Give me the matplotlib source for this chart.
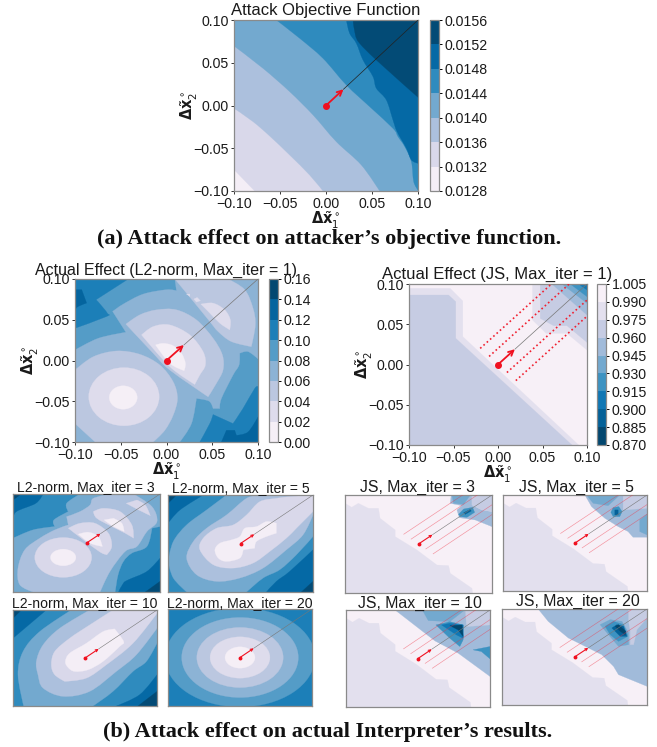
import matplotlib
matplotlib.use('Agg')
import matplotlib.pyplot as plt
from matplotlib.patches import Ellipse, PathPatch
from matplotlib.path import Path
from matplotlib.colors import ListedColormap, BoundaryNorm
from matplotlib.cm import ScalarMappable
import numpy as np

plt.rcParams['font.family'] = ['Liberation Sans', 'DejaVu Sans']
plt.rcParams['mathtext.fontset'] = 'dejavusans'

W, H = 657, 747
TEXT = '#1a1a1a'
FRAME = '#8a8a8a'

# colorbar levels
obj_levels = [0.0128, 0.0132, 0.0136, 0.0140, 0.0144, 0.0148, 0.0152, 0.0156]
l2_levels = [0.00, 0.02, 0.04, 0.06, 0.08, 0.10, 0.12, 0.14, 0.16]
js_levels = [0.870, 0.885, 0.900, 0.915, 0.930, 0.945, 0.960, 0.975, 0.990, 1.005]
ticks = [-0.10, -0.05, 0.00, 0.05, 0.10]

# contour regions: (level, outline), in units of 0.01, painted in order
FULL = [(-10, -10), (10, -10), (10, 10), (-10, 10)]

obj_regions = [
    (0, FULL),
    (1, [(-10, -7.5), (-7.75, -10), (10, -10), (10, 10), (-10, 10)]),
    (2, [(-10, -0.33), (-7.93, -1.89), (-6.12, -3.57), (-3.95, -5.79), (-1.78, -8.13), (-0.33, -10),
         (10, -10), (10, 10), (-10, 10)]),
    (3, [(-10, 6.96), (-6.85, 4.35), (-3.95, 1.62), (-1.41, -1.11), (1.12, -4.23), (3.84, -6.96), (5.83, -10),
         (10, -10), (10, 10), (-10, 10)]),
    (4, [(-5.4, 10), (-2.86, 7.86), (-0.33, 5.52), (2.21, 2.4), (4.75, -0.14), (7.28, -2.67), (7.83, -3.65),
         (8.55, -4.8), (9.28, -6.57), (9.53, -8.9), (10, -9.9), (10, 10)]),
    (5, [(2.21, 10), (2.57, 8.44), (3.3, 7.27), (4.02, 5.32), (5.11, 3.37), (5.47, 2.01), (6.56, 0.64),
         (7.28, -1.7), (7.72, -3.06), (8.73, -5), (9.28, -6.37), (10, -6.76), (10, 10)]),
    (6, [(2.93, 10), (3.19, 8.25), (3.66, 7.27), (5.47, 5.32), (10, 0.96), (10, 10)]),
]

l2_iter1_regions = [
    (4, FULL),
    (5, [(-10, 10), (-4.18, 10), (-7.71, 7.45), (-7.45, 7.17), (-6.47, 5.81), (-6.55, 5.4), (-10, 3.96)]),
    (6, [(-10, 8.69), (-9.27, 8.69), (-8.73, 7.05), (-9.64, 6.64), (-10, 6.25)]),
    (3, [(-10, 1.29), (-7.45, 2.73), (-4.44, 3.47), (-5.89, 6.02), (-4.73, 6.92), (-2.55, 8.15), (0, 8.69),
         (1.09, 8.56), (0.91, 10), (10, 10), (10, 0.2), (8.91, 1.09), (8, 0.88), (7.93, -0.55), (7.27, -1.79),
         (6, -4.66), (5.82, -5.89), (5.09, -5.89), (4.65, -4.99), (3.27, -4.66), (2.73, -7.74), (1.45, -10),
         (-10, -10)]),
    (5, [(3.64, -10), (4.73, -7.74), (5.09, -6.63), (7.27, -7.74), (8.36, -5.89), (9.64, -3.43), (10, -3.22),
         (10, -10)]),
    (6, [(6, -10), (6.55, -8.56), (7.45, -8.56), (7.64, -9.18), (8.91, -8.77), (10, -6.92), (10, -10)]),
    (2, [(0.91, 10), (6.73, 10), (8.55, 8.69), (9.45, 6.43), (9.71, 4.37), (9.27, 1.7), (7.09, 2.32), (5.64, 3.55),
         (4.73, 4.78), (3.09, 7.04)]),
    (1, [(3.75, 6.92), (5.09, 7.04), (6.36, 6.22), (6.98, 4.99), (6.91, 3.76), (5.82, 4.58), (4.55, 6.02)]),
    (1, [(2.18, 8.15), (2.55, 8.15), (2.55, 7.86)]),
    (1, [(2.98, 7.54), (3.35, 7.74), (3.71, 7.33), (3.27, 7.17)]),
    (2, [(-4.44, 4.46), (-2.91, 5.61), (-1.09, 6.22), (1.09, 6.22), (3.27, 4.99), (5.09, 2.73), (6.11, 0.68),
         (6.18, -1.17), (5.45, -2.81), (4.55, -4.46), (0.36, -1.17), (-1.45, 0.88)]),
    (1, [(-2.73, 3.14), (-1.45, 4.17), (0.36, 4.37), (2.55, 3.14), (4, 1.09), (4.25, -0.55), (3.64, -1.78),
         (3.09, -2.94), (0.36, -0.76)]),
    (0, [(-1.2, 1.91), (-0.36, 2.11), (0.73, 1.82), (1.64, 0.88), (2.07, -0.35), (1.93, -1.25), (0.36, -0.35)]),
    (2, [(-10, -1.17), (-8, 0.47), (-5.45, 1.17), (-2.91, 0.76), (-0.73, -0.55), (0.73, -2.61), (1.2, -4.66),
         (0.73, -6.71), (-0.18, -8.56), (-1.45, -10), (-7.8, -10), (-10, -7.74)]),
]
# rings: (level, centre x, centre y, half width, half height)
l2_iter1_rings = [(1, -4.65, -4.44, 3.85, 3.57), (0, -4.73, -4.54, 1.53, 1.44)]

js_iter1_regions = [
    (0, FULL),
    (1, [(-10, 9.46), (-5.38, 9.46), (-3.96, 7.89), (-3.96, 3.46), (9.06, -10), (-10, -10)]),
    (2, [(-10, 8.63), (-5.56, 8.63), (-4.75, 7.8), (-4.75, 3.25), (8.31, -10), (-10, -10)]),
    (1, [(3.88, 10), (3.88, 5.53), (5.42, 3.87), (7.75, 3.87), (10, 1.8), (10, 10)]),
    (2, [(4.75, 10), (4.75, 5.73), (6.25, 4.82), (7.75, 4.82), (10, 2.75), (10, 10)]),
    (3, [(6.06, 10), (10, 6.15), (10, 10)]),
    (4, [(7.19, 10), (10, 7.6), (10, 10)]),
    (5, [(8.12, 10), (10, 8.43), (10, 10)]),
    (6, [(9.06, 10), (10, 9.25), (10, 10)]),
]

l2_iter3_regions = [
    (4, FULL),
    (5, [(-10, 10), (-5.9, 10), (-6.9, 8.1), (-9.55, 6.4), (-10, 4.7)]),
    (6, [(-10, 10), (-8.86, 10), (-10, 8.78)]),
    (5, [(4.35, -10), (5.03, -8.17), (5.72, -7.49), (8.22, -5.8), (10, -3.1), (10, -10)]),
    (6, [(8, -10), (10, -7.83), (10, -10)]),
    (3, [(-10, 0.98), (-7.27, 2.68), (-4.31, 3.36), (-4.44, 4.71), (-2.48, 6.41), (-2.71, 8.1), (-0.89, 10), (10, 10),
         (10, 3.36), (8.91, 3.02), (8.22, -0.71), (6.17, -2.07), (5.03, -3.76), (4.3, -6.47), (3.9, -10), (-10, -10)]),
    (2, [(-9.09, -8.5), (-9.32, -5.12), (-8.4, -1.39), (-6.36, 0.98), (-4.31, 2.68), (-2.48, 3.69), (-2.71, 5.39),
         (-0.89, 6.41), (0.48, 7.76), (0.93, 9.12), (3.21, 10), (6.4, 10), (8.91, 7.42), (9.59, 4.37), (8.22, 2.34),
         (6.86, -0.71), (5.26, -1.73), (3.2, -5.8), (1.85, -10), (-7.27, -10)]),
    (1, [(-2.48, 3.02), (-0.89, 4.03), (1.16, 4.03), (2.98, 2), (3.44, -0.71), (2.76, -2.41), (1.85, -1.86),
         (-0.43, 0.64)]),
    (0, [(-1.12, 1.8), (0.25, 2.2), (1.62, 1.32), (2.16, -0.71), (0.48, -0.03)]),
    (1, [(0.93, 6.41), (2.28, 7.08), (4.58, 6.41), (6.17, 3.69), (6.4, 0.98), (5.26, 2), (3.44, 3.36), (1.39, 5.05)]),
    (0, [(2.39, 4.71), (3.67, 5.05), (4.81, 4.03), (5.13, 2.34), (3.67, 3.36)]),
    (1, [(5.4, 8.1), (6.86, 8.78), (8, 7.76), (8.68, 5.59), (7.08, 6.75)]),
]
l2_iter3_rings = [(1, -3.17, -2.95, 3.87, 4.07), (0, -3.17, -2.95, 1.73, 1.7)]

l2_iter5_regions = [
    (4, FULL),
    (5, [(-10, 10), (-5.14, 10), (-8.35, 6.92), (-10, 4.18)]),
    (6, [(-10, 10), (-8.81, 10), (-10, 8.29)]),
    (5, [(3.58, -10), (4.95, -7.81), (6.79, -5.75), (10, -1.3), (10, -10)]),
    (6, [(8.39, -10), (10, -7.81), (10, -10)]),
    (3, [(-10, -3.7), (-9.27, 0.41), (-7.43, 3.84), (-4.68, 6.92), (-1.93, 10), (10, 10), (10, 1.44), (7.71, -2.33),
         (5.41, -5.41), (3.12, -7.12), (0.83, -10), (-7.43, -10), (-9.27, -7.12)]),
    (2, [(-7.43, -3.01), (-6.51, 0.41), (-4.68, 3.15), (-1.93, 5.89), (0.83, 9.32), (2.66, 10), (10, 10), (10, 5.89),
         (8.62, 1.78), (6.33, -1.3), (3.12, -5.07), (-0.09, -7.12), (-3.3, -7.81), (-6.06, -6.44)]),
    (1, [(-5.6, -1.3), (-5.14, 1.1), (-3.3, 3.15), (-1.01, 3.84), (0.83, 5.89), (2.66, 8.63), (4.95, 9.32), (6.79, 9.66),
         (10, 10), (10, 6.58), (7.71, 3.15), (6.33, 1.1), (4.04, -1.64), (1.74, -4.04), (-1.01, -5.07), (-3.76, -4.38)]),
    (0, [(-3.53, -1.3), (-2.84, 0.07), (-1.24, 0.75), (-0.09, 1.44), (0.6, 3.15), (2.2, 3.49), (3.58, 4.52), (4.95, 4.18),
         (4.95, 2.12), (3.58, 1.44), (2.2, 0.41), (1.97, -0.96), (0.37, -1.3), (-0.09, -3.01), (-1.93, -3.7),
         (-3.07, -3.01)]),
]

l2_iter10_regions = [
    (4, FULL),
    (5, [(-10, 10), (-5.37, 10), (-10, 4.12)]),
    (6, [(-10, 10), (-8.84, 10), (-10, 8.27)]),
    (5, [(4.35, -10), (7.59, -7.65), (10, -3.49), (10, -10)]),
    (6, [(7.36, -10), (10, -6.96), (10, -10)]),
    (3, [(-8.52, -10), (-9.31, -3.49), (-8.61, 1.35), (-6.3, 5.5), (-1.9, 10), (10, 10), (10, 3.08), (8.52, -0.73),
         (6.67, -2.8), (3.89, -6.96), (1.11, -10)]),
    (2, [(-6.53, -3.49), (-6.76, -0.73), (-5.83, 2.73), (-3.52, 6.19), (0.65, 10), (10, 10), (10, 6.19), (7.13, 0.66),
         (4.35, -2.8), (0.65, -6.96), (-3.06, -7.99), (-5.83, -6.26)]),
    (1, [(-4.68, -1.42), (-4.21, 1.35), (-2.13, 4.12), (0.65, 6.89), (3.89, 10), (10, 10), (10, 9.31), (6.67, 3.08),
         (2.96, -1.42), (0.19, -4.19), (-2.82, -4.88), (-4.21, -3.49)]),
    (0, [(-2.73, -0.73), (-2.13, 1), (0.19, 3.08), (2.5, 5.5), (4.12, 6.06), (5.37, 3.43), (4.81, 2.39), (2.5, -0.73),
         (0.42, -2.46), (-1.44, -2.8), (-2.36, -1.97)]),
]

l2_iter20_regions = [(5, FULL)]
l2_iter20_rings = [(4, 0, 0, 10.4, 10.2), (3, 0, 0, 8.1, 8.25), (2, 0, 0, 6.0, 6.2), (1, 0, 0, 4.16, 4.26),
                   (0, 0, 0, 2.08, 2.2)]

# the lower left staircase is the same in all small JS panels
js_stair = [(-10, 8.3), (-9.09, 7.48), (-8.18, 8.3), (-6.82, 7.28), (-5.45, 7.28), (-5.23, 5.24), (-3.18, 2.86),
            (-3.18, 1.5), (-0.23, -1.22), (2.5, -4.29), (4.09, -4.42), (4.32, -5.99), (7.27, -9.05), (7.36, -10),
            (-10, -10)]

js_iter3_regions = [
    (0, FULL), (1, js_stair),
    (3, [(4.45, 10), (4.32, 8.3), (5.91, 7.82), (5.23, 6.94), (5.55, 5.37), (7.73, 4.9), (10, 3.54), (10, 6.6),
         (8.64, 6.94), (7.27, 7.96), (7.27, 10)]),
    (2, [(7.27, 10), (10, 10), (10, 6.6), (8.64, 6.94), (7.27, 7.96)]),
    (4, [(4.55, 10), (4.77, 8.3), (6.14, 8.1), (7.05, 10)]),
    (5, [(5.45, 6.05), (6.14, 7.14), (7.36, 7.48), (7.64, 6.46), (6.59, 5.44), (5.68, 5.58)]),
    (7, [(6.14, 6.39), (7.05, 7.07), (7.18, 6.73), (6.36, 6.05)]),
]
js_iter5_regions = [
    (0, FULL), (1, js_stair),
    (3, [(1.38, 10), (2.3, 7.58), (4.15, 5.16), (5.99, 3.43), (7.37, 2.39), (8.06, 1.21), (10, 1.21), (10, 10)]),
    (2, [(6.68, 10), (10, 10), (10, 7.23), (6.68, 6.89)]),
    (4, [(1.61, 10), (2.53, 8.27), (4.61, 7.79), (6.22, 10)]),
    (5, [(4.98, 6.4), (5.3, 7.37), (6.08, 7.58), (6.54, 6.54), (6.22, 5.5), (5.3, 5.5)]),
    (7, [(5.53, 6.89), (5.99, 6.89), (5.99, 5.85), (5.53, 5.85)]),
    (4, [(8.99, 4.81), (10, 5.99), (10, 1.7), (8.99, 2.39)]),
]
js_iter10_regions = [
    (0, FULL), (1, js_stair),
    (3, [(-3.18, 10), (2.35, 3.63), (5.58, 1.1), (10, -3.7), (10, 10)]),
    (2, [(6.59, 10), (10, 10), (10, 6.92), (6.73, 6.58)]),
    (4, [(0.6, 10), (1.43, 7.81), (4.42, 7.6), (6.5, 10)]),
    (5, [(2.49, 6.92), (4.42, 7.6), (6.27, 6.92), (6.27, 3.84), (5.81, 2.47), (4.42, 4.18)]),
    (6, [(3.27, 6.92), (4.42, 7.26), (6.27, 6.92), (6.27, 4.18), (5.35, 4.86)]),
    (8, [(4.42, 6.78), (6.13, 6.92), (6.27, 4.52), (5.58, 5.89)]),
    (5, [(7.65, 1.78), (10, 2.47), (10, -0.07), (8.8, 1.44)]),
]
js_iter20_regions = [
    (0, FULL), (1, js_stair),
    (3, [(-5.01, 10), (-3.63, 7.43), (-0.85, 3.96), (1.92, 1.88), (3.76, 0.49), (5.38, -1.94), (6.07, -3.68),
         (10, -6.11), (10, 10)]),
    (2, [(7.46, 10), (10, 10), (10, 8.13), (8.61, 5.69), (8.15, 2.57), (7.69, 2.57), (7.69, 5.35), (7.46, 7.43)]),
    (4, [(3.53, 6.74), (4.92, 7.78), (6.54, 7.43), (7.46, 5), (7.46, 2.57), (6.07, 2.22), (4.69, 4.65)]),
    (5, [(4.23, 6.39), (5.38, 7.43), (6.77, 6.74), (7.37, 4.31), (6.07, 3.26), (4.92, 4.65)]),
    (7, [(5.15, 6.04), (5.84, 6.74), (6.77, 6.39), (7.23, 4.31), (6.3, 4.31)]),
    (8, [(5.61, 6.39), (6.07, 6.74), (7.09, 5.35), (7, 4.65), (6.3, 5.35)]),
]

# attack path and the parallel JS lines
arrow_tip = 1.9
path_end = 10
js_line_starts = [(-2, 2), (-1, 1), (1, -1), (2, -2)]
js_line_ends = [(6, 10), (8, 10), (10, 8), (10, 6)]


def level_colors(n):
    return [plt.cm.PuBu((i + 0.5) / n) for i in range(n)]


def make_axes(x0, x1, y0, y1):
    # pixel box of the reference -> figure fractions
    return fig.add_axes([x0 / W, 1 - y1 / H, (x1 - x0) / W, (y1 - y0) / H])


def outline_path(pts, smooth):
    # cubic curve through every outline point, sharp corners and border points stay corners
    a = np.array(pts, dtype=float)
    n = len(a)
    tangents = []
    for i in range(n):
        prev, cur, nxt = a[i - 1], a[i], a[(i + 1) % n]
        u, v = cur - prev, nxt - cur
        cosang = np.dot(u, v) / (np.linalg.norm(u) * np.linalg.norm(v))
        if not smooth or cosang < 0.55 or max(abs(cur)) >= 10:
            tangents.append(np.zeros(2))
        else:
            tangents.append((nxt - prev) / 6)
    verts, codes = [a[0]], [Path.MOVETO]
    for i in range(n):
        j = (i + 1) % n
        verts += [a[i] + tangents[i], a[j] - tangents[j], a[j]]
        codes += [Path.CURVE4, Path.CURVE4, Path.CURVE4]
    verts.append(a[0])
    codes.append(Path.CLOSEPOLY)
    return Path(np.array(verts) * 0.01, codes)


def paint(ax, regions, rings, colors, smooth=True):
    for level, outline in regions:
        ax.add_patch(PathPatch(outline_path(outline, smooth), fc=colors[level], ec=colors[level], lw=0.2))
    for level, cx, cy, rx, ry in rings:
        ax.add_patch(Ellipse((cx * 0.01, cy * 0.01), 2 * rx * 0.01, 2 * ry * 0.01, fc=colors[level], ec=colors[level], lw=0.2))
    ax.set_xlim(-0.1, 0.1)
    ax.set_ylim(-0.1, 0.1)
    for s in ax.spines.values():
        s.set_color(FRAME)
        s.set_linewidth(0.9)


def attack_path(ax, line_color, small=False):
    tip = arrow_tip * 0.01
    end = path_end * 0.01
    ax.plot([tip, end], [tip, end], color=line_color, lw=0.4 if small else 0.5, zorder=5)
    ax.annotate('', xy=(tip, tip), xytext=(0, 0), zorder=6,
                arrowprops=dict(arrowstyle='->', color='#f01020', lw=0.8 if small else 1.3,
                                mutation_scale=4 if small else 9, shrinkA=0, shrinkB=0))
    ax.plot([0], [0], 'o', color='#f01020', ms=1.8 if small else 4, zorder=7)


def big_panel(box, regions, rings, colors, title, title_xy, title_size, line_color, smooth=True):
    ax = make_axes(*box)
    paint(ax, regions, rings, colors, smooth)
    attack_path(ax, line_color)
    ax.set_xticks(ticks)
    ax.set_yticks(ticks)
    ax.set_xticklabels(['\u22120.10', '\u22120.05', '0.00', '0.05', '0.10'], fontsize=10.2, color=TEXT)
    ax.set_yticklabels(['\u22120.10', '\u22120.05', '0.00', '0.05', '0.10'], fontsize=10.2, color=TEXT)
    ax.tick_params(length=2.5, width=0.7, pad=1.5, color='#333333')
    ax.set_xlabel(r'$\mathbf{\Delta}\tilde{\mathbf{x}}_1^\circ$', fontsize=10.5, labelpad=-1, color=TEXT)
    ax.set_ylabel(r'$\mathbf{\Delta}\tilde{\mathbf{x}}_2^\circ$', fontsize=10.5, labelpad=-5, color=TEXT)
    fig.text(title_xy[0] / W, 1 - title_xy[1] / H, title, fontsize=title_size, ha='center', va='center', color=TEXT)
    return ax


def add_colorbar(box, levels, colors, labels):
    cax = make_axes(*box)
    cmap = ListedColormap(colors)
    cb = fig.colorbar(ScalarMappable(norm=BoundaryNorm(levels, len(colors)), cmap=cmap), cax=cax, spacing='uniform')
    cb.set_ticks(levels)
    cb.set_ticklabels(labels)
    cb.ax.tick_params(labelsize=10.2, length=2.5, width=0.7, pad=1.5, labelcolor=TEXT)
    cb.outline.set_edgecolor(FRAME)
    cb.outline.set_linewidth(0.9)


def small_panel(box, regions, rings, colors, title, title_xy, js=False):
    ax = make_axes(*box)
    paint(ax, regions, rings, colors, smooth=not js)
    ax.set_xticks([])
    ax.set_yticks([])
    if js:
        for (x0, y0), (x1, y1) in zip(js_line_starts, js_line_ends):
            ax.plot([x0 * 0.01, x1 * 0.01], [y0 * 0.01, y1 * 0.01], color='#f03040', lw=0.45, alpha=0.5, zorder=4)
    attack_path(ax, '#777777', small=True)
    fig.text(title_xy[0] / W, 1 - title_xy[1] / H, title, fontsize=11.4 if js else 10.1, ha='center', va='center', color=TEXT)


fig = plt.figure(figsize=(W / 100, H / 100), dpi=100)

c7 = level_colors(7)
c8 = level_colors(8)
c9 = level_colors(9)

# (a) objective function
big_panel((234, 418, 20, 191), obj_regions, [], c7, 'Attack Objective Function', (326, 10), 12, '#222222')
add_colorbar((430, 439, 20, 191), obj_levels, c7, ['%.4f' % v for v in obj_levels])

# (b) large panels
big_panel((75, 258, 279, 442), l2_iter1_regions, l2_iter1_rings, c8, 'Actual Effect (L2-norm, Max_iter = 1)',
          (166, 270), 11.5, '#777777')
add_colorbar((269, 278, 279, 442), l2_levels, c8, ['%.2f' % v for v in l2_levels])

ax_js = big_panel((409, 587, 284, 445), js_iter1_regions, [], c9, 'Actual Effect (JS, Max_iter = 1)',
                  (497, 274), 12, '#777777', smooth=False)
for (x0, y0), (x1, y1) in zip(js_line_starts, js_line_ends):
    ax_js.plot([x0 * 0.01, x1 * 0.01], [y0 * 0.01, y1 * 0.01], color='#f02030', lw=1.2, ls=':', zorder=4)
add_colorbar((597, 606, 284, 445), js_levels, c9[::-1], ['%.3f' % v for v in js_levels])

# (b) small panels
small_panel((13, 160, 494, 592), l2_iter3_regions, l2_iter3_rings, c7, 'L2-norm, Max_iter = 3', (86, 487))
small_panel((168, 313, 495, 592), l2_iter5_regions, [], c7, 'L2-norm, Max_iter = 5', (241, 488))
small_panel((13, 157, 610, 706), l2_iter10_regions, [], c7, 'L2-norm, Max_iter = 10', (85, 603))
small_panel((168, 312, 609, 706), l2_iter20_regions, l2_iter20_rings, c8, 'L2-norm, Max_iter = 20', (240, 603))

small_panel((345, 492, 495, 593), js_iter3_regions, [], c9, 'JS, Max_iter = 3', (418, 487), js=True)
small_panel((503, 647, 495, 591), js_iter5_regions, [], c9, 'JS, Max_iter = 5', (576, 487), js=True)
small_panel((346, 490, 610, 707), js_iter10_regions, [], c9, 'JS, Max_iter = 10', (420, 603), js=True)
small_panel((502, 647, 609, 705), js_iter20_regions, [], c9, 'JS, Max_iter = 20', (578, 601), js=True)

# captions
fig.text(329 / W, 1 - 239 / H, '(a) Attack effect on attacker\u2019s objective function.', fontsize=16,
         fontweight='bold', family='Liberation Serif', ha='center', va='center', color='#111111')
fig.text(328 / W, 1 - 732 / H, '(b) Attack effect on actual Interpreter\u2019s results.', fontsize=16,
         fontweight='bold', family='Liberation Serif', ha='center', va='center', color='#111111')

plt.savefig('out.png', dpi=100)
